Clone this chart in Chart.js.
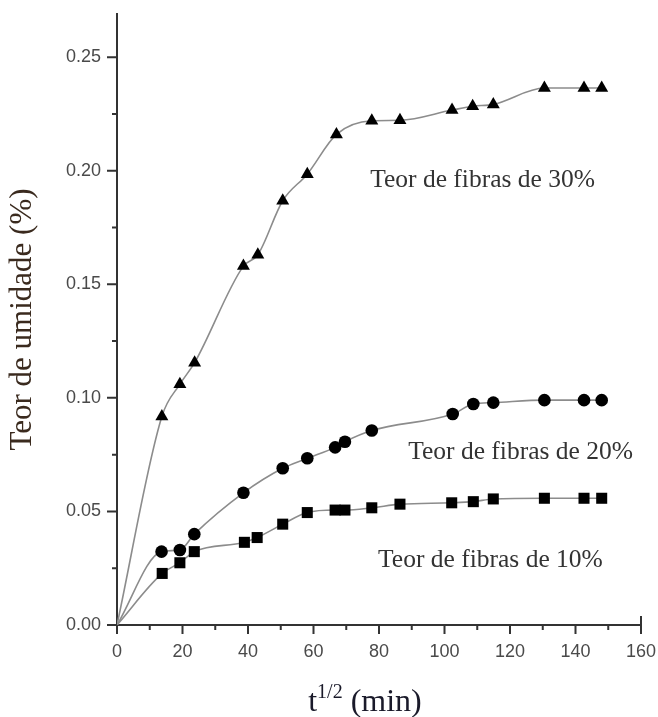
<!DOCTYPE html>
<html>
<head>
<meta charset="utf-8">
<script src="https://cdn.jsdelivr.net/npm/chart.js@4"></script>
<style>
  html, body { margin: 0; padding: 0; background: #fff; }
  #chart { display: block; }
</style>
</head>
<body>
<canvas id="chart" width="658" height="717"></canvas>
<script>
// Moisture uptake vs sqrt(time) for three fibre contents.

// --- data ---
const xTri = [0, 13.7, 19.2, 23.7, 38.6, 43.0, 50.6, 58.1, 67.0, 77.8, 86.4, 102.3, 108.6, 114.9, 130.5, 142.6, 148.0];
const yTri = [0, 0.0918, 0.1060, 0.1155, 0.1580, 0.1630, 0.1868, 0.1985, 0.2160, 0.2220, 0.2222, 0.2267, 0.2284, 0.2292, 0.2364, 0.2364, 0.2364];

const xCirc = [0, 13.6, 19.2, 23.6, 38.6, 50.6, 58.1, 66.6, 69.6, 77.8, 102.5, 108.8, 114.9, 130.5, 142.6, 148.0];
const yCirc = [0, 0.0323, 0.0330, 0.0400, 0.0582, 0.0690, 0.0734, 0.0782, 0.0807, 0.0856, 0.0929, 0.0973, 0.0979, 0.0990, 0.0990, 0.0990];

const xSq = [0, 13.8, 19.2, 23.6, 38.9, 42.8, 50.6, 58.1, 66.6, 69.6, 77.8, 86.4, 102.2, 108.8, 114.9, 130.5, 142.6, 148.0];
const ySq = [0, 0.0227, 0.0274, 0.0323, 0.0364, 0.0385, 0.0444, 0.0495, 0.0506, 0.0506, 0.0516, 0.0532, 0.0538, 0.0543, 0.0555, 0.0558, 0.0558, 0.0558];

const seriesNames = ["Teor de fibras de 30%", "Teor de fibras de 20%", "Teor de fibras de 10%"];
// label anchors in data units (left edge, vertical middle)
const labelX = [77.3, 88.9, 79.7];
const labelY = [0.196, 0.0762, 0.0286];

const xMin = 0, xMax = 160, xStep = 10, xLabelStep = 20;
const yMin = 0, yMax = 0.269, yStep = 0.025, yLabelStep = 0.05;
const yTitle = "Teor de umidade (%)";

const pts = (xs, ys) => xs.map((x, i) => ({ x: x, y: ys[i] }));

function series(data, style, r) {
  return {
    data: data,
    showLine: true,
    borderColor: "#8c8c8c",
    borderWidth: 1.6,
    cubicInterpolationMode: "monotone",
    backgroundColor: "#000",
    pointBorderColor: "#000",
    pointBorderWidth: 0,
    pointStyle: style,
    pointRadius: (c) => (c.dataIndex === 0 ? 0 : r),
    pointHoverRadius: 0,
  };
}

const isMult = (v, step) => Math.abs(Math.round(v / step) * step - v) < 1e-6;

// tick marks, end tick, series labels, x title with superscript
const decor = {
  id: "decor",
  afterDraw(chart) {
    const { ctx, chartArea: a } = chart;
    const xs = chart.scales.x, ys = chart.scales.y;
    ctx.save();
    ctx.strokeStyle = "#333";
    ctx.lineWidth = 2;
    ctx.beginPath();
    xs.ticks.forEach((t) => {
      const px = xs.getPixelForValue(t.value);
      const len = isMult(t.value, xLabelStep) ? 9 : 5;
      ctx.moveTo(px, a.bottom);
      ctx.lineTo(px, a.bottom + len);
    });
    ys.ticks.forEach((t) => {
      const py = ys.getPixelForValue(t.value);
      const len = isMult(t.value, yLabelStep) ? 10 : 5;
      ctx.moveTo(a.left, py);
      ctx.lineTo(a.left - len, py);
    });
    // closing tick at the right end of x axis
    const xe = xs.getPixelForValue(xMax);
    ctx.moveTo(xe, a.bottom);
    ctx.lineTo(xe, a.bottom - 9);
    ctx.stroke();

    // series labels
    ctx.fillStyle = "#333";
    ctx.font = "25.5px 'Liberation Serif', 'Times New Roman', serif";
    ctx.textAlign = "left";
    ctx.textBaseline = "middle";
    seriesNames.forEach((s, i) => {
      ctx.fillText(s, xs.getPixelForValue(labelX[i]), ys.getPixelForValue(labelY[i]));
    });

    // x title: t^(1/2) (min)
    const big = "32px 'Liberation Serif', 'Times New Roman', serif";
    const small = "20px 'Liberation Serif', 'Times New Roman', serif";
    ctx.fillStyle = "#1a1a2a";
    ctx.textBaseline = "alphabetic";
    const base = 711;
    ctx.font = big;
    const w1 = ctx.measureText("t").width;
    const w3 = ctx.measureText(" (min)").width;
    ctx.font = small;
    const w2 = ctx.measureText("1/2").width;
    let x0 = 365 - (w1 + w2 + w3) / 2;
    ctx.font = big;
    ctx.fillText("t", x0, base);
    ctx.font = small;
    ctx.fillText("1/2", x0 + w1, base - 13);
    ctx.font = big;
    ctx.fillText(" (min)", x0 + w1 + w2, base);
    ctx.restore();
  },
};

new Chart(document.getElementById("chart"), {
  type: "scatter",
  data: {
    datasets: [
      series(pts(xTri, yTri), "triangle", 7.5),
      series(pts(xCirc, yCirc), "circle", 6.3),
      series(pts(xSq, ySq), "rect", 7.8),
    ],
  },
  options: {
    responsive: false,
    animation: false,
    layout: { padding: { top: 14, right: 17, left: 0, bottom: 0 } },
    plugins: { legend: { display: false }, tooltip: { enabled: false } },
    scales: {
      x: {
        type: "linear",
        min: xMin, max: xMax,
        afterFit: (s) => { s.height = 92; s.paddingLeft = 0; s.paddingRight = 0; },
        grid: { display: false, drawTicks: false },
        border: { display: true, color: "#333", width: 2 },
        ticks: {
          stepSize: xStep,
          autoSkip: false,
          maxRotation: 0,
          padding: 16,
          color: "#4a4a4a",
          font: { family: "'Liberation Sans', Arial, sans-serif", size: 18 },
          callback: (v) => (isMult(v, xLabelStep) ? String(Math.round(v)) : ""),
        },
      },
      y: {
        type: "linear",
        min: yMin, max: yMax,
        afterFit: (s) => { s.width = 117; s.paddingTop = 0; s.paddingBottom = 0; },
        grid: { display: false, drawTicks: false },
        border: { display: true, color: "#333", width: 2 },
        ticks: {
          stepSize: yStep,
          includeBounds: false,
          autoSkip: false,
          padding: 16,
          color: "#4a4a4a",
          font: { family: "'Liberation Sans', Arial, sans-serif", size: 18 },
          callback: (v) => (isMult(v, yLabelStep) ? v.toFixed(2) : ""),
        },
        title: {
          display: true,
          text: yTitle,
          color: "#3a2a1e",
          padding: { top: 4, bottom: 0 },
          font: { family: "'Liberation Serif', 'Times New Roman', serif", size: 31 },
        },
      },
    },
  },
  plugins: [decor],
});
</script>
</body>
</html>
